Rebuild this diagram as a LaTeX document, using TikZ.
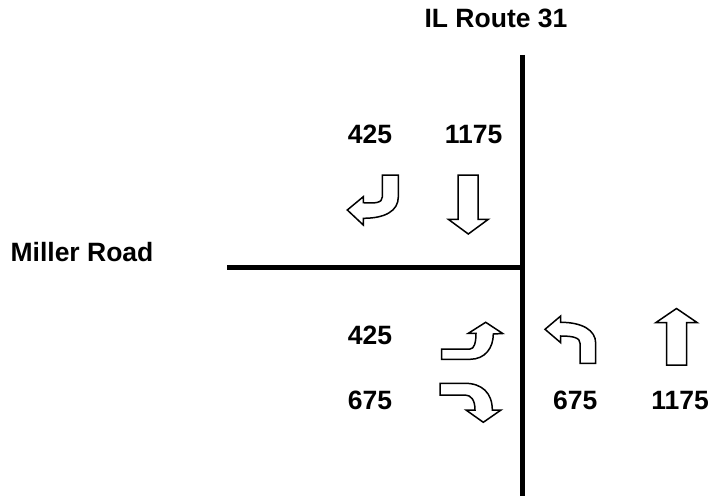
\documentclass[tikz,border=0pt]{standalone}
\usepackage{fontspec}
\setmainfont{Liberation Sans}
\tikzset{
  road/.style={line width=4.6pt,black},
  turnarrow/.style={line width=1.5pt,black,fill=white,line join=miter},
  lbl/.style={font=\bfseries\fontsize{26.5}{30}\selectfont,inner sep=0pt,text=black,anchor=center}
}
\begin{document}
\begin{tikzpicture}[x=1pt,y=-1pt]
\useasboundingbox (0,0) rectangle (711,497);
\fill[white] (0,0) rectangle (711,497);
\coordinate (rn) at (522.5,55);
\coordinate (rs) at (522.5,496);
\coordinate (rj) at (522.5,267.5);
\coordinate (rw) at (227,267.5);
\draw[road] (rn) -- (rs);
\draw[road] (rw) -- (rj);
\node[lbl] (l1) at (496,18.5) {IL Route 31};
\node[lbl] (l2) at (82,252) {Miller Road};
\node[lbl] (l3) at (370,134.5) {425};
\node[lbl] (l4) at (473.5,134.5) {1175};
\node[lbl] (l5) at (370,335) {425};
\node[lbl] (l6) at (370,400.5) {675};
\node[lbl] (l7) at (575.3,400.5) {675};
\node[lbl] (l8) at (680,400.5) {1175};
\draw[turnarrow] (382.3,175) -- (398.3,175) -- (398.3,197) .. controls (398.3,211) and (385,218.3) .. (363.3,218.3) -- (363.3,225) -- (347.3,210) -- (363.3,196.7) -- (363.3,202.7) .. controls (375,203.5) and (382.3,203) .. (382.3,197) -- cycle;
\draw[turnarrow] (458,175) -- (478,175) -- (478,219.3) -- (488.3,219.3) -- (468.3,234) -- (448.3,219.3) -- (458,219.3) -- cycle;
\draw[turnarrow] (441.7,349) -- (441.7,359.3) -- (470,359.3) .. controls (485,359.3) and (493.3,348) .. (493.3,334) -- (502.7,333.5) -- (485.7,322.3) -- (468.3,333.3) -- (476,333.3) .. controls (476,343) and (474,349) .. (470,349) -- cycle;
\draw[turnarrow] (440,383.3) -- (440,395) -- (465,395) .. controls (471,395) and (475,400) .. (475,410) -- (466,410) -- (483.3,422.3) -- (501,410) -- (492.3,410) .. controls (492.3,393) and (482,383.3) .. (465,383.3) -- cycle;
\draw[turnarrow] (545,329.3) -- (560.7,316) -- (560.7,322.3) .. controls (582,322.3) and (595.7,330) .. (595.7,343.3) -- (595.7,363.3) -- (580,363.3) -- (580,343.3) .. controls (580,338) and (574,336) .. (560.7,336) -- (560.7,342.7) -- cycle;
\draw[turnarrow] (676.5,308.5) -- (697.3,322.7) -- (686.7,322.7) -- (686.7,365) -- (666.7,365) -- (666.7,322.7) -- (655.7,322.7) -- cycle;
\end{tikzpicture}
\end{document}
